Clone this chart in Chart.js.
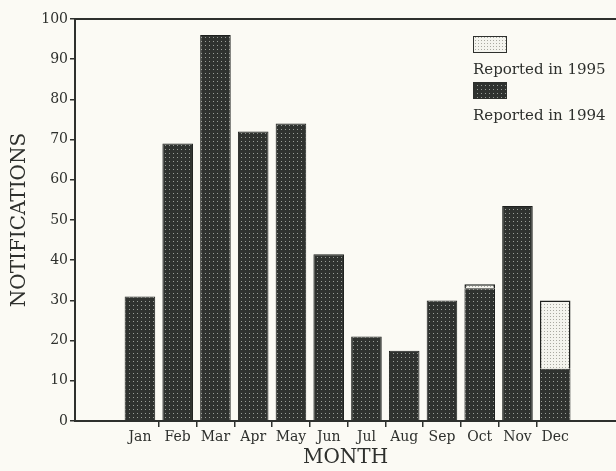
<!DOCTYPE html>
<html>
<head>
<meta charset="utf-8">
<script src="https://cdn.jsdelivr.net/npm/chart.js@4"></script>
<style>
  html, body { margin: 0; padding: 0; background: #fbfaf4; }
  #wrap { width: 616px; height: 471px; }
</style>
</head>
<body>
<div id="wrap"><canvas id="c" width="616" height="471"></canvas></div>
<script>
// ---- data ----
const months = ['Jan','Feb','Mar','Apr','May','Jun','Jul','Aug','Sep','Oct','Nov','Dec'];
const reported1994 = [31, 69, 96, 72, 74, 41.5, 21, 17.5, 30, 33, 53.5, 13];
const reported1995 = [null, null, null, null, null, null, null, null, null, 1, null, 17];
const yTicks = [0, 10, 20, 30, 40, 50, 60, 70, 80, 90, 100];

// ---- styles ----
function makePattern(bg, dot, size) {
  const p = document.createElement('canvas');
  p.width = size; p.height = size;
  const g = p.getContext('2d');
  g.fillStyle = bg; g.fillRect(0, 0, size, size);
  g.fillStyle = dot; g.fillRect(1, 1, 1, 1);
  return g.createPattern(p, 'repeat');
}
const darkFill = makePattern('#2f322f', '#9a9e98', 4);
const lightFill = makePattern('#f4f4ee', '#a9a9a1', 3);
const ink = '#2e302d';
const serif = "'DejaVu Serif', 'Liberation Serif', serif";

const bgPlugin = {
  id: 'bg',
  beforeDraw(chart) {
    const c = chart.ctx;
    c.save(); c.fillStyle = '#fbfaf4';
    c.fillRect(0, 0, chart.width, chart.height); c.restore();
  }
};

// legend: box above label, drawn from the datasets, top-right inside plot
const legendPlugin = {
  id: 'stackLegend',
  afterDraw(chart) {
    const c = chart.ctx, a = chart.chartArea;
    const order = [1, 0];
    let y = a.top + 17;
    const x = a.right - 143;
    c.save();
    c.font = "15px " + serif;
    c.textBaseline = 'middle';
    c.textAlign = 'left';
    order.forEach(i => {
      const ds = chart.data.datasets[i];
      c.fillStyle = ds.backgroundColor;
      c.fillRect(x, y, 34, 17);
      c.strokeStyle = ink; c.lineWidth = 1;
      c.strokeRect(x + 0.5, y + 0.5, 33, 16);
      c.fillStyle = ink;
      c.fillText(ds.label, x, y + 34);
      y += 46;
    });
    c.restore();
  }
};

const xMin = -0.72, xMax = 13.61;

new Chart(document.getElementById('c'), {
  type: 'bar',
  data: {
    datasets: [
      {
        label: 'Reported in 1994',
        data: reported1994.map((v, i) => ({ x: i + 1, y: v })),
        backgroundColor: darkFill,
        borderColor: '#1e201e',
        borderWidth: 1,
        categoryPercentage: 1,
        barPercentage: 0.81
      },
      {
        label: 'Reported in 1995',
        data: reported1995.map((v, i) => ({ x: i + 1, y: v })),
        backgroundColor: lightFill,
        borderColor: '#1e201e',
        borderWidth: 1.5,
        categoryPercentage: 1,
        barPercentage: 0.81
      }
    ]
  },
  options: {
    responsive: false,
    animation: false,
    layout: { padding: { top: 19, right: 0, left: 0, bottom: 0 } },
    plugins: { legend: { display: false }, tooltip: { enabled: false } },
    scales: {
      x: {
        type: 'linear',
        stacked: true,
        offset: false,
        min: xMin, max: xMax,
        afterBuildTicks: s => { s.ticks = months.map((m, i) => ({ value: i + 1 })); },
        afterFit: s => { s.height = 50; },
        grid: {
          offset: true,
          drawOnChartArea: false,
          tickLength: 6,
          lineWidth: 1.5,
          color: ctx => (ctx.type !== 'tick' || ctx.index === 0) ? 'rgba(0,0,0,0)' : ink
        },
        border: { display: true, color: ink, width: 2 },
        ticks: {
          autoSkip: false, maxRotation: 0, padding: 2,
          color: ink,
          font: { family: serif, size: 14 },
          callback: v => months[v - 1] || ''
        },
        title: {
          display: true, text: 'MONTH', color: ink,
          font: { family: serif, size: 20 },
          padding: { top: 0, bottom: 1 }
        }
      },
      x2: {
        type: 'linear',
        position: 'top',
        offset: false,
        min: xMin, max: xMax,
        grid: { display: false, drawTicks: false },
        ticks: { display: false },
        border: { display: true, color: ink, width: 2 }
      },
      y: {
        stacked: true,
        min: 0, max: 100,
        afterBuildTicks: s => { s.ticks = yTicks.map(v => ({ value: v })); },
        afterFit: s => { s.width = 75; },
        grid: { drawOnChartArea: false, tickLength: 5, lineWidth: 1.5, color: ink },
        border: { display: true, color: ink, width: 2 },
        ticks: {
          padding: 2, color: ink,
          font: { family: serif, size: 14 }
        },
        title: {
          display: true, text: 'NOTIFICATIONS', color: ink,
          font: { family: serif, size: 20 },
          padding: { top: 8, bottom: 0 }
        }
      }
    }
  },
  plugins: [bgPlugin, legendPlugin]
});
</script>
</body>
</html>
